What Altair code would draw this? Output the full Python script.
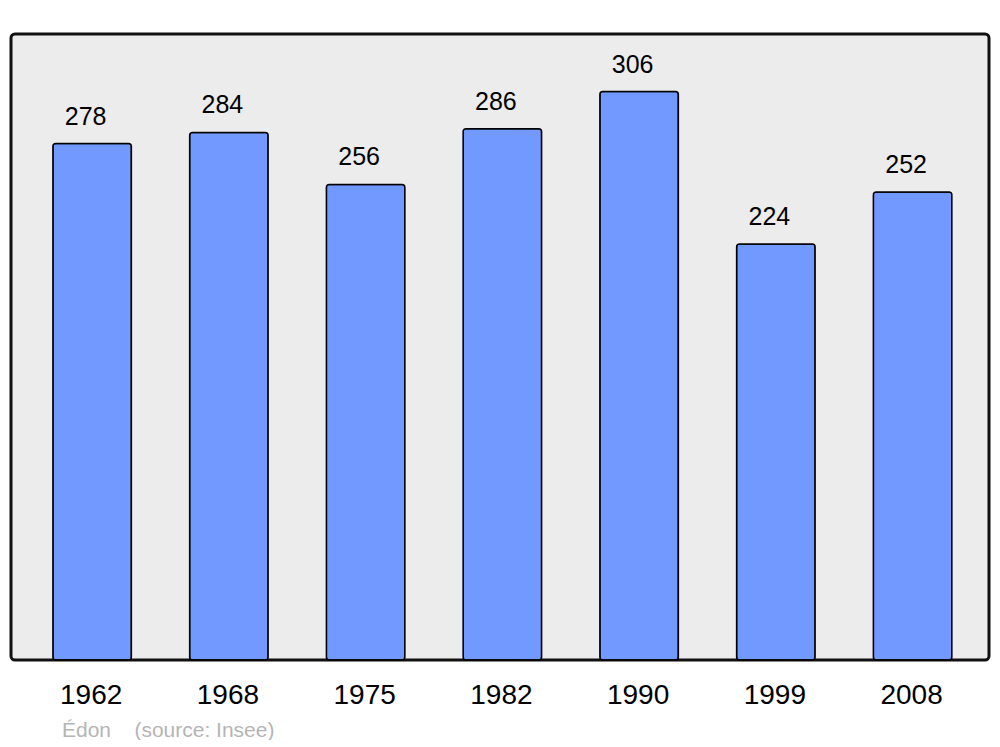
import altair as alt
import pandas as pd

years = ["1962", "1968", "1975", "1982", "1990", "1999", "2008"]
population = [278, 284, 256, 286, 306, 224, 252]
caption = "Édon\u00a0\u00a0\u00a0\u00a0(source: Insee)"

df = pd.DataFrame({"year": years, "pop": population})

x = alt.X("year:N", sort=years,
          scale=alt.Scale(paddingInner=0.426, paddingOuter=0.289, align=0.53),
          axis=alt.Axis(title=None, domain=False, ticks=False, labelAngle=0,
                        labelFontSize=28, labelColor="black", labelPadding=21.5,
                        labelFont="Liberation Sans", labelOffset=-1))
y = alt.Y("pop:Q", scale=alt.Scale(domain=[0, 337], nice=False, zero=True), axis=None)

bars = alt.Chart(df).mark_bar(
    color="#7299ff", stroke="black", strokeWidth=1.5, cornerRadius=3
).encode(x=x, y=y)

labels = alt.Chart(df).mark_text(
    fontSize=25, font="Liberation Sans", color="black", dy=-19, dx=-6.5,
    baseline="alphabetic"
).encode(x=x, y=y, text="pop:Q")

chart = alt.layer(bars, labels).properties(
    width=978, height=626,
    autosize=alt.AutoSizeParams(type="none"),
    padding={"left": 3, "top": 26, "right": 3, "bottom": 80},
    title=alt.TitleParams(caption, orient="bottom", anchor="start", dx=51,
                          fontSize=21, font="Liberation Sans", fontWeight="normal",
                          color="#b5b5b5", offset=10),
).configure(
    background="white"
).configure_view(
    fill="#ececec", stroke="#111111", strokeWidth=3, cornerRadius=4
)

chart.save("out.html", embed_options={"renderer": "svg", "actions": False})
